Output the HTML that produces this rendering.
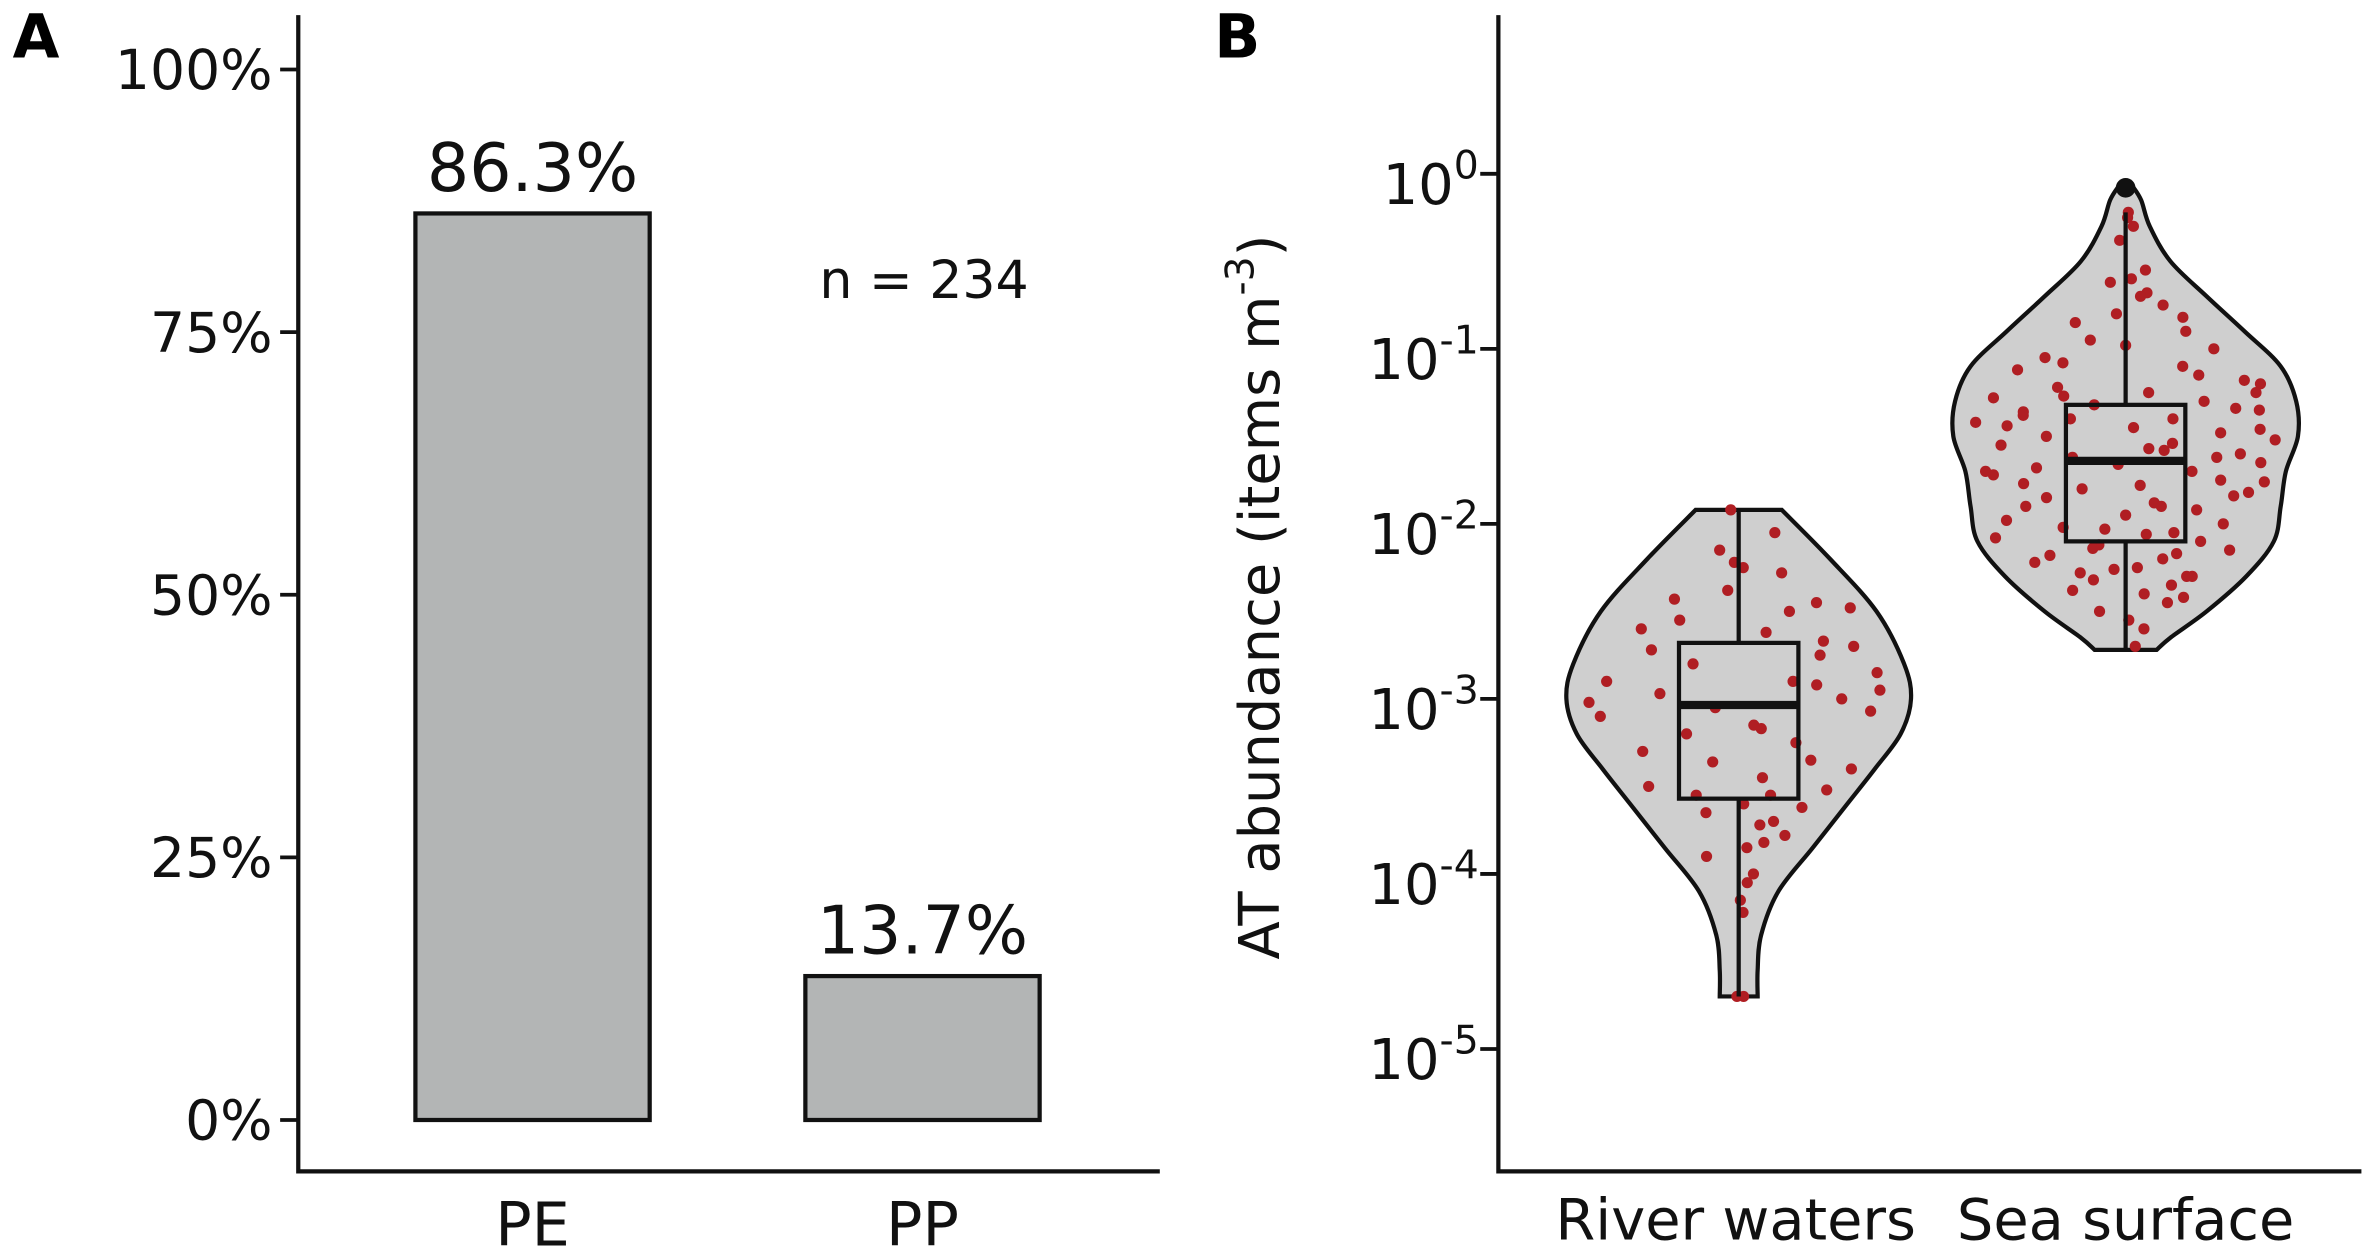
<!DOCTYPE html>
<html><head><meta charset="utf-8"><style>
html,body{margin:0;padding:0;background:#fff}
svg{display:block;font-family:"DejaVu Sans","Liberation Sans",sans-serif}
</style></head><body>
<svg id="chart" width="2371" height="1253" viewBox="0 0 1568 829" xmlns="http://www.w3.org/2000/svg">
<g id="panelA"></g>
<g id="panelB"></g>
</svg>
<script>
// ---------- Panel A data ----------
const barCategories = ["PE", "PP"];
const barValues = [86.3, 13.7];
const barLabels = ["86.3%", "13.7%"];
const pctTicks = [0, 25, 50, 75, 100];
const pctTickLabels = ["0%", "25%", "50%", "75%", "100%"];
const sampleNote = "n = 234";

// ---------- Panel B data ----------
const groups = ["River waters", "Sea surface"];
const logTicks = [0, -1, -2, -3, -4, -5];
// box stats (log10 values): whiskerLow, q1, median, q3, whiskerHigh
const riverBox = [-4.70, -3.57, -3.035, -2.68, -1.92];
const seaBox = [-2.72, -2.10, -1.64, -1.32, -0.22];
const seaOutliers = [-0.08];
// violin profiles: log10 value and relative half-width (0..1)
const riverViolinY = [-1.92,-2.2,-2.5,-2.8,-3.0,-3.2,-3.4,-3.6,-3.85,-4.1,-4.35,-4.55,-4.70];
const riverViolinW = [0.25,0.53,0.80,0.96,1.0,0.94,0.79,0.63,0.43,0.23,0.13,0.11,0.11];
const seaViolinY = [-0.07,-0.15,-0.3,-0.5,-0.7,-0.9,-1.1,-1.3,-1.5,-1.7,-1.9,-2.1,-2.3,-2.5,-2.65,-2.72];
const seaViolinW = [0.04,0.09,0.14,0.26,0.47,0.69,0.90,0.99,1.0,0.93,0.90,0.86,0.70,0.47,0.26,0.18];
// jittered points: log10 value and jitter (-1..1 of half width)
const riverPtsY = [-1.92,-2.05,-2.15,-2.25,-2.22,-2.28,-2.38,-2.45,-2.43,-2.5,-2.55,-2.6,-2.62,-2.7,-2.72,-2.75,-2.8,-2.85,-2.9,-2.92,-2.95,-2.97,-3.0,-3.02,-3.05,-3.07,-3.1,-3.15,-3.2,-3.25,-3.3,-3.35,-3.4,-3.45,-3.5,-3.55,-3.55,-3.6,-3.62,-3.65,-3.7,-3.72,-3.78,-3.82,-3.85,-3.9,-4.0,-4.05,-4.15,-4.22,-4.7,-4.7,-3.17,-2.67,-2.9,-3.36,-3.52,-2.48];
const riverPtsX = [-0.2,0.6,-0.25,0.05,-0.05,0.45,-0.1,0.65,-0.55,0.4,-0.45,-0.72,0.2,0.8,-0.6,0.55,-0.3,0.9,-0.85,0.5,0.9,-0.5,0.65,-0.95,-0.15,0.85,-0.9,0.1,-0.35,0.4,-0.7,0.55,0.9,0.2,-0.8,0.3,-0.4,0.05,0.65,-0.35,0.4,0.25,0.6,0.35,0.12,-0.52,0.3,0.2,0.05,0.15,-0.1,0.28,0.15,0.6,0.35,-0.2,0.8,0.9];
const seaPtsY = [-0.22,-0.25,-0.3,-0.38,-0.55,-0.6,-0.62,-0.68,-0.7,-0.75,-0.8,-0.82,-0.85,-0.9,-0.95,-1.0,-1.05,-1.1,-1.12,-1.18,-1.2,-1.22,-1.25,-1.28,-1.3,-1.32,-1.35,-1.38,-1.4,-1.42,-1.45,-1.48,-1.5,-1.52,-1.55,-1.58,-1.6,-1.62,-1.65,-1.68,-1.7,-1.72,-1.75,-1.78,-1.8,-1.82,-1.85,-1.88,-1.9,-1.92,-1.95,-1.98,-2.0,-2.02,-2.05,-2.08,-2.1,-2.12,-2.15,-2.18,-2.2,-2.22,-2.25,-2.28,-2.3,-2.32,-2.35,-2.38,-2.4,-2.45,-2.5,-2.55,-2.6,-2.7,-1.27,-1.34,-1.44,-1.57,-1.66,-1.76,-2.03,-2.17,-1.15,-1.36,-1.62,-1.84,-2.26,-1.08,-1.46,-1.7,-1.9,-2.14,-2.42,-1.25,-1.54,-1.77,-2.06,-2.3,-0.98,-1.4];
const seaPtsX = [0.15,0.1,0.35,-0.2,0.4,0.1,-0.25,0.3,0.2,0.45,-0.1,0.6,-0.5,0.55,-0.3,0.7,-0.6,0.4,-0.75,0.8,0.9,-0.45,0.15,-0.85,0.5,-0.2,0.85,-0.65,0.3,-0.95,0.05,0.6,-0.5,0.95,-0.8,0.25,0.75,-0.35,0.9,-0.6,0.45,-0.9,0.65,0.1,-0.3,0.85,-0.55,0.2,-0.7,0.5,0.0,-0.85,0.7,-0.45,0.35,-0.95,0.55,-0.2,0.8,-0.6,0.3,-0.75,0.1,-0.4,0.6,-0.3,0.45,-0.55,0.2,0.5,-0.35,0.05,0.35,0.3,-0.4,0.7,-0.75,0.15,-0.05,0.95,-0.15,0.4,0.5,-0.65,0.6,0.75,-0.1,-0.45,0.85,-0.95,0.25,-0.25,0.65,0.85,0.3,-0.7,0.15,0.55,0.0,-0.35];

const NS = "http://www.w3.org/2000/svg";
function mk(parent, tag, attrs, text) {
  const e = document.createElementNS(NS, tag);
  for (const k in attrs) e.setAttribute(k, attrs[k]);
  if (text !== undefined) e.textContent = text;
  parent.appendChild(e);
  return e;
}

// ---------- Panel A ----------
const A = document.getElementById("panelA");
const ayA = v => 741 - v / 100 * (741 - 46);
const axA = i => 352 + i * 258;
const barW = 155;
let t = mk(A, "text", {x: 8, y: 38, "font-size": 40, "font-weight": "bold"}, "A");


pctTicks.forEach((v, i) => {
  const l = mk(A, "line", {x1: 185, x2: 197, y1: ayA(v), y2: ayA(v), stroke: "#111", "stroke-width": 2.5});
  
  
  const tx = mk(A, "text", {x: 180, y: ayA(v) + 13, "font-size": 36.5, "text-anchor": "end", fill: "#111"}, pctTickLabels[i]);
  
  
});
barCategories.forEach((c, i) => {
  const r = mk(A, "rect", {x: axA(i) - barW / 2, y: ayA(barValues[i]), width: barW, height: ayA(0) - ayA(barValues[i]), fill: "#b3b5b5", stroke: "#111", "stroke-width": 2.8});
  
  
  const lb = mk(A, "text", {x: axA(i), y: ayA(barValues[i]) - 15, "font-size": 44, "text-anchor": "middle", fill: "#111"}, barLabels[i]);
  
  
  const xl = mk(A, "text", {x: axA(i), y: 824, "font-size": 40, "text-anchor": "middle", fill: "#111"}, c);
  
  
});
t = mk(A, "text", {x: 611, y: 197, "font-size": 34.5, "text-anchor": "middle", fill: "#111"}, sampleNote);


t = mk(A, "path", {d: "M197 10 V775 H767", fill: "none", stroke: "#111", "stroke-width": 2.8});



// ---------- Panel B ----------
const B = document.getElementById("panelB");
const ayB = v => 115 - v * 115.8;
const axB = i => 1150 + i * 256;
const maxHalf = 114;
t = mk(B, "text", {x: 803, y: 38, "font-size": 40, "font-weight": "bold"}, "B");


logTicks.forEach(v => {
  const l = mk(B, "line", {x1: 979, x2: 991, y1: ayB(v), y2: ayB(v), stroke: "#111", "stroke-width": 2.5});
  
  
  const tx = mk(B, "text", {x: 978, y: ayB(v) + 20, "font-size": 37, "text-anchor": "end", fill: "#111"});
  
  
  mk(tx, "tspan", {}, "10");
  mk(tx, "tspan", {"font-size": 26, dy: -17}, String(v));
});
t = mk(B, "text", {transform: "translate(846,395) rotate(-90)", "font-size": 37, "text-anchor": "middle", fill: "#111"});


mk(t, "tspan", {}, "AT abundance (items m");
mk(t, "tspan", {"font-size": 26, dy: -17}, "-3");
mk(t, "tspan", {dy: 17}, ")");

function smoothSide(pts) {
  let d = "";
  for (let i = 0; i < pts.length - 1; i++) {
    const p0 = pts[Math.max(0, i - 1)], p1 = pts[i], p2 = pts[i + 1], p3 = pts[Math.min(pts.length - 1, i + 2)];
    const c1 = [p1[0] + (p2[0] - p0[0]) / 6, p1[1] + (p2[1] - p0[1]) / 6];
    const c2 = [p2[0] - (p3[0] - p1[0]) / 6, p2[1] - (p3[1] - p1[1]) / 6];
    d += ` C${c1[0]},${c1[1]} ${c2[0]},${c2[1]} ${p2[0]},${p2[1]}`;
  }
  return d;
}
function violin(i, ys, ws, name) {
  const cx = axB(i);
  const right = ys.map((y, k) => [cx + ws[k] * maxHalf, ayB(y)]);
  const left = ys.map((y, k) => [cx - ws[k] * maxHalf, ayB(y)]).reverse();
  let d = `M${right[0][0]},${right[0][1]}` + smoothSide(right) + ` L${left[0][0]},${left[0][1]}` + smoothSide(left) + " Z";
  const p = mk(B, "path", {d: d, fill: "#cfcfcf", stroke: "#111", "stroke-width": 2.8});
  
  
}
function points(i, ys, xs, ws, vys, name) {
  const cx = axB(i);
  ys.forEach((y, k) => {
    let w = ws[ws.length - 1];
    for (let j = 0; j < vys.length - 1; j++) {
      if (y <= vys[j] && y >= vys[j + 1]) { const f = (vys[j] - y) / (vys[j] - vys[j + 1]); w = ws[j] + f * (ws[j + 1] - ws[j]); break; }
    }
    const c = mk(B, "circle", {cx: cx + xs[k] * w * maxHalf * 0.92, cy: ayB(y), r: 3.7, fill: "#b01e23"});
    
    
  });
}
function box(i, s, name) {
  const cx = axB(i), hw = 39.5;
  const g = mk(B, "g", {stroke: "#111", fill: "none"});
  
  
  mk(g, "line", {x1: cx, x2: cx, y1: ayB(s[0]), y2: ayB(s[1]), "stroke-width": 2.8});
  mk(g, "line", {x1: cx, x2: cx, y1: ayB(s[3]), y2: ayB(s[4]), "stroke-width": 2.8});
  mk(g, "rect", {x: cx - hw, y: ayB(s[3]), width: 2 * hw, height: ayB(s[1]) - ayB(s[3]), "stroke-width": 2.8});
  mk(g, "line", {x1: cx - hw, x2: cx + hw, y1: ayB(s[2]), y2: ayB(s[2]), "stroke-width": 5.5});
}
violin(0, riverViolinY, riverViolinW, "violin-river-waters");
violin(1, seaViolinY, seaViolinW, "violin-sea-surface");
points(0, riverPtsY, riverPtsX, riverViolinW, riverViolinY, "point-river");
points(1, seaPtsY, seaPtsX, seaViolinW, seaViolinY, "point-sea");
box(0, riverBox, "box-river-waters");
box(1, seaBox, "box-sea-surface");
seaOutliers.forEach(v => {
  const c = mk(B, "circle", {cx: axB(1), cy: ayB(v), r: 6.5, fill: "#111"});
  
  
});
groups.forEach((g, i) => {
  const xl = mk(B, "text", {x: axB(i) - (i === 0 ? 2 : 0), y: 820, "font-size": 38, "text-anchor": "middle", fill: "#111"}, g);
  
  
});
t = mk(B, "path", {d: "M991 10 V775 H1562", fill: "none", stroke: "#111", "stroke-width": 2.8});


</script>
</body></html>
